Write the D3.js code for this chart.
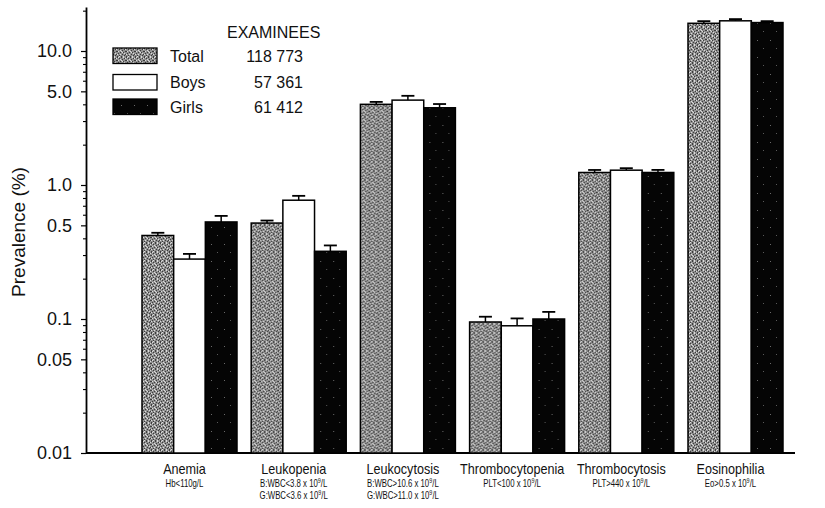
<!DOCTYPE html>
<html>
<head>
<meta charset="utf-8">
<script src="https://cdn.jsdelivr.net/npm/d3@7/dist/d3.min.js"></script>
<style>
  html, body { margin: 0; padding: 0; background: #fff; }
  svg { display: block; font-family: "Liberation Sans", Arial, Helvetica, sans-serif; }
</style>
</head>
<body>
<svg id="chart" width="825" height="508"></svg>
<script>
// Haematological abnormalities: prevalence (%) by sex, log scale
const categories = ["Anemia", "Leukopenia", "Leukocytosis", "Thrombocytopenia", "Thrombocytosis", "Eosinophilia"];
const criteria = [
  ["Hb<110g/L"],
  ["B:WBC<3.8 x 10\u2079/L", "G:WBC<3.6 x 10\u2079/L"],
  ["B:WBC>10.6 x 10\u2079/L", "G:WBC>11.0 x 10\u2079/L"],
  ["PLT<100 x 10\u2079/L"],
  ["PLT>440 x 10\u2079/L"],
  ["Eo>0.5 x 10\u2079/L"]
];
const seriesNames = ["Total", "Boys", "Girls"];
const examinees = ["118 773", "57 361", "61 412"];

const totalPrev = [0.42, 0.52, 4.0, 0.095, 1.24, 16.1];
const boysPrev  = [0.28, 0.77, 4.3, 0.089, 1.29, 16.8];
const girlsPrev = [0.53, 0.32, 3.77, 0.100, 1.24, 16.3];

const totalErr = [0.02, 0.023, 0.17, 0.009, 0.055, 0.6];
const boysErr  = [0.026, 0.06, 0.33, 0.012, 0.045, 0.5];
const girlsErr = [0.058, 0.034, 0.25, 0.013, 0.056, 0.4];

const majorTicks = [10, 5, 1, 0.5, 0.1, 0.05, 0.01];
const majorLabels = ["10.0", "5.0", "1.0", "0.5", "0.1", "0.05", "0.01"];
const yMin = 0.01, yMax = 21.3;

const rows = categories.map((c, i) => ({
  category: c,
  values: [
    { series: "Total", v: totalPrev[i], e: totalErr[i] },
    { series: "Boys",  v: boysPrev[i],  e: boysErr[i] },
    { series: "Girls", v: girlsPrev[i], e: girlsErr[i] }
  ]
}));

const svg = d3.select("#chart");

// fill textures: grey stipple for Total, speckled black for Girls
const defs = svg.append("defs");
const T = 9;
const pGray = defs.append("pattern").attr("id", "stipple")
  .attr("patternUnits", "userSpaceOnUse").attr("width", T).attr("height", T);
pGray.append("rect").attr("width", T).attr("height", T).attr("fill", "#909090");
const darkDots = [[0,0],[4,0],[7,1],[2,1],[5,2],[0,3],[8,3],[3,4],[6,4],[1,5],[5,6],[8,6],[2,7],[7,7],[4,8],[0,8]];
const lightDots = [[1,0],[6,0],[3,2],[8,1],[1,3],[5,4],[7,5],[3,6],[0,6],[6,8],[2,8],[4,3]];
darkDots.forEach(([x, y]) => pGray.append("rect").attr("x", x).attr("y", y)
  .attr("width", 1).attr("height", 1).attr("fill", "#3c3c3c"));
lightDots.forEach(([x, y]) => pGray.append("rect").attr("x", x).attr("y", y)
  .attr("width", 1).attr("height", 1).attr("fill", "#dcdcdc"));

const pBlack = defs.append("pattern").attr("id", "speckBlack")
  .attr("patternUnits", "userSpaceOnUse").attr("width", 13).attr("height", 17);
pBlack.append("rect").attr("width", 13).attr("height", 17).attr("fill", "#050505");
pBlack.append("rect").attr("x", 4).attr("y", 6).attr("width", 1).attr("height", 1).attr("fill", "#6a6a6a");
pBlack.append("rect").attr("x", 10).attr("y", 14).attr("width", 1).attr("height", 1).attr("fill", "#5a5a5a");

const fills = { Total: "url(#stipple)", Boys: "#ffffff", Girls: "url(#speckBlack)" };

// scales
const y = d3.scaleLog().domain([yMin, yMax]).range([453, 7]);
const x0 = d3.scaleBand().domain(categories).range([142, 783]).paddingInner(0.13).paddingOuter(0);
const x1 = d3.scaleBand().domain(seriesNames).range([0, x0.bandwidth()]).padding(0);

// y axis: labelled major ticks
const axisX = 86;
const gY = svg.append("g").attr("transform", `translate(${axisX},0)`)
  .call(d3.axisLeft(y).tickValues(majorTicks).tickSize(5).tickSizeOuter(0)
    .tickFormat((d, i) => majorLabels[i]));
gY.select(".domain").attr("stroke", "#000").attr("stroke-width", 1.8);
gY.selectAll(".tick line").attr("stroke", "#000").attr("stroke-width", 1.2);
gY.selectAll(".tick text").attr("x", -14).attr("font-size", 18)
  .attr("font-family", "'Liberation Sans', Arial, sans-serif").attr("fill", "#111");

// minor ticks
const minor = [];
[0.01, 0.1, 1, 10].forEach(dec => {
  for (let k = 2; k <= 9; k++) {
    const v = dec * k;
    if (v <= yMax && !majorTicks.includes(+v.toPrecision(3))) minor.push(v);
  }
});
const gMinor = svg.append("g").attr("transform", `translate(${axisX},0)`)
  .call(d3.axisLeft(y).tickValues(minor).tickSize(3).tickSizeOuter(0).tickFormat(""));
gMinor.select(".domain").remove();
gMinor.selectAll(".tick line").attr("stroke", "#000").attr("stroke-width", 1.1);

// baseline
svg.append("line").attr("x1", axisX).attr("x2", 795)
  .attr("y1", y(yMin)).attr("y2", y(yMin))
  .attr("stroke", "#000").attr("stroke-width", 1.8);

// y title
svg.append("text")
  .attr("transform", `translate(25,232) rotate(-90)`)
  .attr("text-anchor", "middle").attr("font-size", 19).attr("fill", "#111")
  .text("Prevalence (%)");

// bars with upper error bars
const groups = svg.append("g").selectAll("g").data(rows).join("g")
  .attr("transform", d => `translate(${x0(d.category)},0)`);

groups.selectAll("g.err").data(d => d.values).join("g")
  .attr("class", "err")
  .each(function(d) {
    const g = d3.select(this);
    const cx = x1(d.series) + x1.bandwidth() / 2;
    g.append("line").attr("x1", cx).attr("x2", cx)
      .attr("y1", y(d.v)).attr("y2", y(d.v + d.e))
      .attr("stroke", "#000").attr("stroke-width", 1.5);
    g.append("line").attr("x1", cx - 6.5).attr("x2", cx + 6.5)
      .attr("y1", y(d.v + d.e)).attr("y2", y(d.v + d.e))
      .attr("stroke", "#000").attr("stroke-width", 1.8);
  });

groups.selectAll("rect").data(d => d.values).join("rect")
  .attr("x", d => x1(d.series))
  .attr("width", x1.bandwidth())
  .attr("y", d => y(d.v))
  .attr("height", d => y(yMin) - y(d.v))
  .attr("fill", d => fills[d.series])
  .attr("stroke", "#000").attr("stroke-width", 1.5);

// category labels with diagnostic criteria underneath (condensed lettering)
const labels = svg.append("g").selectAll("g").data(categories).join("g")
  .attr("transform", c => `translate(${x0(c) + x0.bandwidth() / 2 - 5},0)`);
labels.append("text").attr("transform", "scale(0.9,1)")
  .attr("y", 474).attr("text-anchor", "middle")
  .attr("font-size", 14).attr("fill", "#111").text(c => c);
labels.each(function(c, i) {
  d3.select(this).selectAll("text.crit").data(criteria[i]).join("text")
    .attr("class", "crit")
    .attr("transform", "scale(0.78,1)")
    .attr("y", (d, j) => 487 + j * 12)
    .attr("text-anchor", "middle").attr("font-size", 10).attr("fill", "#111")
    .each(function(s) {
      const t = d3.select(this);
      const parts = s.split("\u2079");
      t.append("tspan").text(parts[0]);
      if (parts.length > 1) {
        t.append("tspan").attr("dy", -4).attr("font-size", 7).text("9");
        t.append("tspan").attr("dy", 4).text(parts[1]);
      }
    });
});

// legend
const legend = svg.append("g");
legend.append("text").attr("x", 227).attr("y", 38).attr("font-size", 16).attr("fill", "#111")
  .text("EXAMINEES");
const legRows = legend.selectAll("g.row").data(seriesNames).join("g")
  .attr("transform", (d, i) => `translate(0,${[48, 74.5, 99][i]})`);
legRows.append("rect").attr("x", 113).attr("y", 0).attr("width", 44).attr("height", 15.5)
  .attr("fill", d => fills[d]).attr("stroke", "#000").attr("stroke-width", 1.3);
legRows.append("text").attr("x", 170).attr("y", 13.5).attr("font-size", 16).attr("fill", "#111")
  .text(d => d);
legRows.append("text").attr("x", 303).attr("y", 13.5).attr("text-anchor", "end")
  .attr("font-size", 16).attr("fill", "#111").text((d, i) => examinees[i]);
</script>
</body>
</html>
